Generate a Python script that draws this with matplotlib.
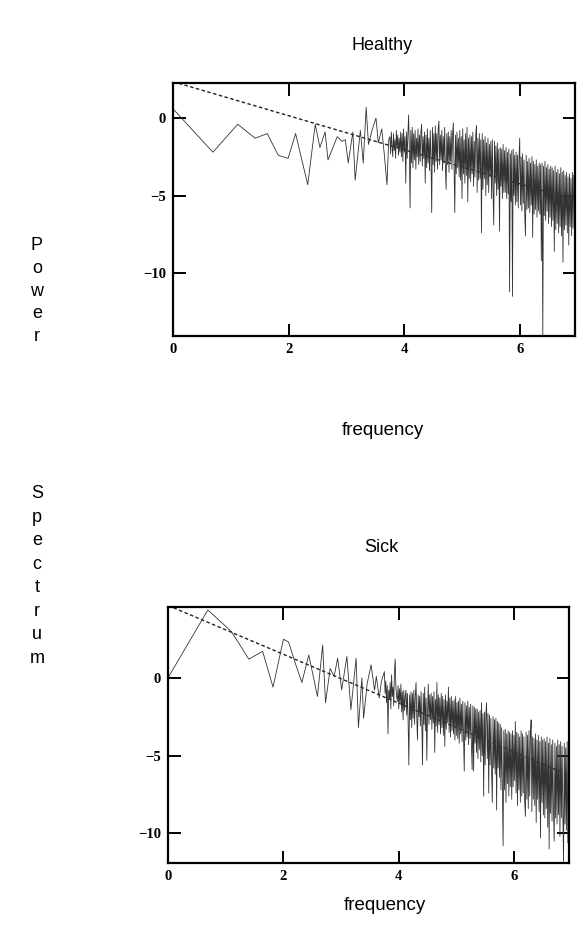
import matplotlib.pyplot as plt
import numpy as np

# log power spectrum vs log frequency

# low-frequency part, where single points can be told apart
healthy_f = [0.0, 0.69, 1.12, 1.42, 1.63, 1.82, 1.99, 2.12, 2.33, 2.46,
             2.54, 2.63, 2.68, 2.84, 2.92, 2.98, 3.03, 3.11, 3.15, 3.24,
             3.29, 3.34, 3.38, 3.44, 3.51, 3.55, 3.61, 3.65, 3.70, 3.73]
healthy_p = [0.6, -2.2, -0.4, -1.3, -1.0, -2.4, -2.6, -1.0, -4.3, -0.4,
             -1.9, -0.9, -2.7, -1.2, -1.5, -1.4, -2.9, -0.9, -4.0, -0.8,
             -2.9, 0.7, -1.7, -0.8, 0.0, -1.6, -0.7, -2.2, -4.3, -1.4]

# dense part, 256 bins spread evenly over 3.75 .. 6.93
healthy_band = [
    -1.2, -2.3, -0.9, -1.8, -2.5, -1.0, -2.1, -1.4, -2.6, -0.8, -1.9, -1.1, -2.4, -1.3, -2.2, -0.9,
    -2.5, -1.0, -2.8, -0.7, -2.2, -1.2, -4.2, -0.9, -2.6, -1.0, 0.2, -2.0, -5.8, -0.8, -2.9, -0.6,
    -3.2, -1.0, -2.7, -0.8, -3.3, -1.3, -2.5, -0.7, -3.0, -1.1, -2.8, -0.9, -0.4, -3.1, -1.2, -2.6,
    -0.9, -4.2, -1.1, -3.2, -0.7, -2.9, -1.3, -3.4, -0.8, -2.6, -6.1, -0.6, -3.0, -1.0, -3.5, -0.5,
    -2.8, -1.0, -3.3, -0.7, -0.2, -3.0, -1.1, -2.7, -0.8, -3.4, -1.2, -2.9, -0.6, -3.2, -4.6, -1.0,
    -3.0, -0.9, -3.5, -1.2, -2.8, -0.8, -3.3, -1.0, -0.3, -3.1, -6.1, -1.1, -3.6, -0.9, -3.2, -1.3,
    -3.8, -0.8, -4.0, -1.2, -5.2, -0.7, -3.6, -1.4, -4.2, -1.0, -3.7, -0.6, -5.4, -1.3, -3.9, -1.1,
    -4.1, -1.2, -3.6, -0.9, -4.4, -1.5, -3.8, -1.1, -0.5, -4.8, -1.3, -4.0, -1.0, -3.9, -1.4, -7.4,
    -1.0, -4.6, -1.4, -3.9, -1.2, -5.0, -1.6, -4.3, -1.3, -4.8, -1.7, -3.8, -1.5, -5.2, -1.4, -4.5,
    -6.9, -1.5, -4.2, -1.8, -5.0, -1.6, -4.6, -2.0, -7.3, -1.9, -4.4, -2.0, -5.2, -1.7, -4.8, -2.1,
    -4.8, -1.9, -5.2, -2.2, -4.9, -2.0, -11.2, -2.3, -5.4, -2.1, -11.5, -2.0, -5.0, -2.4, -5.6, -2.2,
    -5.4, -2.4, -5.8, -2.6, -1.3, -5.6, -2.5, -6.0, -2.3, -5.5, -2.7, -6.2, -7.6, -2.4, -5.9, -2.8,
    -5.8, -2.6, -6.1, -2.9, -5.6, -2.5, -7.7, -2.8, -6.2, -3.0, -5.9, -2.7, -6.4, -3.1, -6.0, -2.9,
    -6.2, -3.0, -9.2, -2.9, -14.1, -3.1, -6.3, -2.8, -6.6, -3.2, -6.0, -3.0, -6.8, -3.3, -6.4, -3.1,
    -7.0, -3.2, -6.6, -3.4, -8.6, -3.1, -7.2, -3.5, -6.8, -3.3, -7.4, -3.6, -7.0, -3.2, -7.6, -3.5,
    -9.3, -3.4, -7.2, -3.7, -6.9, -3.5, -7.4, -3.8, -8.2, -3.6, -7.0, -3.9, -7.6, -3.5, -7.1, -3.7,
]

sick_f = [0.0, 0.69, 1.10, 1.40, 1.64, 1.82, 2.00, 2.09, 2.20, 2.32,
          2.44, 2.59, 2.68, 2.73, 2.81, 2.88, 2.94, 3.01, 3.10, 3.17,
          3.26, 3.30, 3.36, 3.39, 3.45, 3.52, 3.58, 3.61, 3.66, 3.70]
sick_p = [0.0, 4.36, 2.97, 1.2, 1.7, -0.6, 2.48, 2.3, 1.0, -0.3,
          1.47, -1.2, 2.1, -1.6, 0.6, 0.1, 1.26, -0.77, 1.37, -2.05,
          1.26, -3.2, 0.0, -2.6, -0.4, 0.83, -0.8, 0.1, -1.3, -0.2]

sick_band = [
    0.4, -1.0, -0.2, -1.6, -0.5, -3.6, -0.8, -1.4, -0.3, -2.0, 0.2, -1.2, -0.6, -1.8, 0.4, 1.2,
    -0.6, -1.2, -1.5, -0.5, -2.0, -0.7, -1.6, -0.4, -2.2, -0.9, -2.7, -0.8, -2.1, -1.2, -0.8, -2.4,
    -1.0, -2.8, -5.6, -1.1, -2.7, -0.9, -3.2, -1.0, -2.6, -0.8, -3.0, -1.2, -0.3, -2.5, -4.0, -1.1,
    -2.5, -1.2, -3.1, -0.9, -2.8, -5.6, -1.0, -3.0, -0.6, -3.4, -1.3, -5.3, -2.2, -0.4, -3.0, -1.1,
    -2.7, -1.0, -3.3, -1.2, -2.9, -0.9, -4.8, -1.4, -3.1, -0.3, -3.5, -1.1, -3.0, -1.3, -3.6, -1.0,
    -3.2, -1.2, -3.7, -1.4, -4.4, -1.1, -3.3, -1.5, -2.9, -0.6, -3.5, -1.3, -3.8, -1.2, -3.4, -1.5,
    -3.6, -1.4, -4.0, -1.2, -3.7, -1.6, -3.9, -1.5, -4.2, -1.3, -3.6, -1.7, -4.1, -1.5, -3.8, -6.0,
    -1.6, -4.0, -1.8, -3.8, -1.5, -4.3, -1.9, -3.9, -1.7, -4.4, -5.9, -1.8, -6.0, -1.9, -4.2, -2.0,
    -4.8, -2.0, -5.2, -2.2, -4.6, -2.1, -5.4, -1.6, -5.0, -2.3, -7.6, -2.2, -5.6, -2.4, -1.6, -5.2,
    -2.3, -7.4, -2.4, -5.6, -2.6, -6.0, -8.0, -2.5, -5.8, -2.7, -6.2, -2.6, -8.5, -2.8, -5.8, -2.9,
    -6.4, -3.0, -7.2, -3.2, -6.8, -10.8, -3.4, -7.2, -3.3, -8.0, -3.6, -6.8, -3.4, -7.6, -3.5, -7.0,
    -3.6, -7.8, -3.4, -7.0, -3.7, -6.6, -2.8, -7.4, -3.5, -8.2, -3.6, -7.2, -3.8, -8.0, -3.4, -7.6,
    -3.6, -7.4, -3.8, -8.0, -8.9, -3.5, -7.8, -3.7, -8.4, -3.4, -7.6, -3.6, -2.7, -8.6, -3.8, -7.8,
    -3.9, -8.2, -3.6, -9.3, -4.0, -7.8, -3.7, -8.6, -4.1, -10.3, -3.8, -8.0, -4.0, -8.8, -3.9, -9.0,
    -4.1, -8.4, -3.8, -9.6, -4.2, -11.0, -3.9, -8.7, -4.3, -9.2, -4.0, -8.5, -10.5, -4.2, -9.0, -4.4,
    -9.4, -4.0, -8.8, -4.3, -10.2, -4.1, -9.0, -4.4, -8.6, -11.8, -4.2, -9.4, -4.5, -9.8, -4.1, -10.6,
]

# straight-line fits (dotted)
fit_f = [0.0, 6.93]
healthy_fit = [2.35, -5.27]
sick_fit = [4.65, -6.23]

xticks = [0, 2, 4, 6]
yticks = [0, -5, -10]

fig = plt.figure(figsize=(5.83, 9.35), dpi=100)

panels = [
    (healthy_f, healthy_p, healthy_band, healthy_fit, (-14.06, 2.26),
     [0.2967, 0.6406, 0.6895, 0.2706]),
    (sick_f, sick_p, sick_band, sick_fit, (-11.9, 4.55),
     [0.2882, 0.0770, 0.6878, 0.2738]),
]

for f, p, band, fit, ylim, rect in panels:
    ax = fig.add_axes(rect)
    band_f = np.linspace(3.75, 6.93, len(band))
    x = np.concatenate([f, band_f])
    y = np.concatenate([p, band])
    ax.plot(fit_f, fit, color='#222222', lw=1.0, ls=(0, (2.5, 1.8)), zorder=1)
    ax.plot(x, y, color='#333333', lw=0.6, zorder=2)
    ax.set_xlim(0, 6.95)
    ax.set_ylim(*ylim)
    ax.set_xticks(xticks)
    ax.set_yticks(yticks)
    ax.tick_params(direction='in', length=9, width=1.4, top=True, right=True,
                   labelsize=10.5, pad=5)
    for lab in ax.get_xticklabels() + ax.get_yticklabels():
        lab.set_fontfamily('Liberation Serif')
        lab.set_fontweight('bold')
    for s in ax.spines.values():
        s.set_linewidth(1.6)

sans = 'Liberation Sans'
fig.text(382 / 583, 1 - 45 / 935, 'Healthy', ha='center', va='center',
         fontsize=13, family=sans)
fig.text(381 / 583, 1 - 548 / 935, 'Sick', ha='center', va='center',
         fontsize=13, family=sans)
fig.text(383 / 583, 1 - 430 / 935, 'frequency', ha='center', va='center',
         fontsize=13.5, family=sans)
fig.text(385 / 583, 1 - 905 / 935, 'frequency', ha='center', va='center',
         fontsize=13.5, family=sans)
fig.text(37 / 583, 1 - 291 / 935, '\n'.join('Power'), ha='center', va='center',
         fontsize=13, family=sans, linespacing=1.45)
fig.text(37 / 583, 1 - 576 / 935, '\n'.join('Spectrum'), ha='center', va='center',
         fontsize=13, family=sans, linespacing=1.5)

fig.savefig('out.png', dpi=100)
